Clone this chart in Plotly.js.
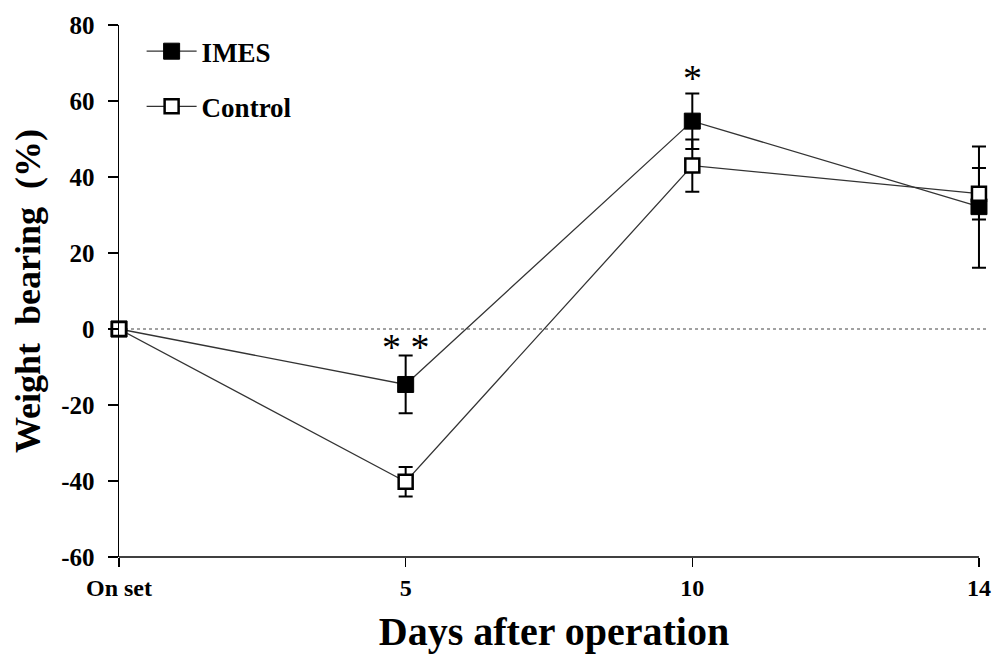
<!DOCTYPE html>
<html>
<head>
<meta charset="utf-8">
<script src="https://cdn.plot.ly/plotly-3.0.1.min.js"></script>
<style>html,body{margin:0;padding:0;background:#fff}#chart{width:1000px;height:659px}</style>
</head>
<body>
<div id="chart"></div>
<script>
const categories = ["On set", "5", "10", "14"];
const xPos = [0, 1, 2, 3];
const imesValues = [0, -14.6, 54.7, 32.2];
const imesErrUp = [0, 7.6, 7.3, 15.8];
const imesErrDown = [0, 7.6, 7.3, 16.1];
const controlValues = [0, -40.2, 43.0, 35.6];
const controlErr = [0, 3.9, 6.9, 6.8];
const sigLabels = ["", "* *", "*", ""];
const sigY = [null, -3.5, 67.5, null];
const yTickVals = [-60, -40, -20, 0, 20, 40, 60, 80];
const yTickText = ["-60", "-40", "-20", "0", "20", "40", "60", "80"];

const FONT = "Liberation Serif, Times New Roman, serif";

const traces = [
  {
    x: xPos, y: imesValues, name: "IMES", type: "scatter", mode: "lines+markers",
    legendgroup: "a",
    line: {color: "#333", width: 1.3},
    marker: {symbol: "square", size: 16, color: "#000", line: {color: "#000", width: 1}},
    error_y: {type: "data", symmetric: false, array: imesErrUp, arrayminus: imesErrDown,
              color: "#000", thickness: 2, width: 7},
    cliponaxis: false
  },
  {
    x: xPos, y: controlValues, name: "Control", type: "scatter", mode: "lines+markers",
    legendgroup: "b",
    line: {color: "#333", width: 1.3},
    marker: {symbol: "square", size: 14, color: "#fff", line: {color: "#000", width: 2.5}},
    error_y: {type: "data", array: controlErr, color: "#000", thickness: 2, width: 7},
    cliponaxis: false
  }
];

const annotations = [];
sigLabels.forEach((t, i) => {
  if (t) annotations.push({
    x: xPos[i], y: sigY[i], xref: "x", yref: "y", text: t, showarrow: false,
    font: {family: FONT, size: 38, color: "#000"}, yanchor: "middle", yshift: -5
  });
});

const layout = {
  width: 1000, height: 659,
  margin: {l: 119, r: 11, t: 25, b: 102},
  paper_bgcolor: "#fff", plot_bgcolor: "#fff",
  font: {family: FONT, color: "#000"},
  showlegend: true,
  legend: {
    x: 0.026, y: 0.996, xanchor: "left", yanchor: "top",
    font: {family: FONT, size: 27, weight: "bold", color: "#000"},
    tracegroupgap: 17, itemwidth: 50, bgcolor: "rgba(0,0,0,0)"
  },
  xaxis: {
    range: [0, 3.035], tickvals: xPos, ticktext: categories,
    showgrid: false, zeroline: false, showline: false,
    ticks: "outside", ticklen: 9, tickwidth: 1.5, tickcolor: "#000",
    tickfont: {family: FONT, size: 24, weight: "bold"},
    title: {text: "Days after operation", font: {family: FONT, size: 40, weight: "bold"}, standoff: 17}
  },
  yaxis: {
    range: [-60, 80], tickvals: yTickVals, ticktext: yTickText,
    showgrid: false, zeroline: false, showline: true, linecolor: "#000", linewidth: 1.5,
    ticks: "outside", ticklen: 10, tickwidth: 1.5, tickcolor: "#000",
    ticklabelstandoff: 8,
    tickfont: {family: FONT, size: 25, weight: "bold"},
    title: {text: "Weight  bearing  (%)", font: {family: FONT, size: 36, weight: "bold"}, standoff: 9}
  },
  shapes: [
    {type: "line", xref: "x", yref: "paper", x0: 0, x1: 3, y0: 0, y1: 0,
     line: {color: "#000", width: 1.5}},
    {type: "line", xref: "paper", yref: "y", x0: 0, x1: 1, y0: 0, y1: 0,
     line: {color: "#444", width: 1.2, dash: "dot"}, layer: "below"}
  ],
  annotations: annotations
};

Plotly.newPlot("chart", traces, layout, {displayModeBar: false, staticPlot: true});
</script>
</body>
</html>
